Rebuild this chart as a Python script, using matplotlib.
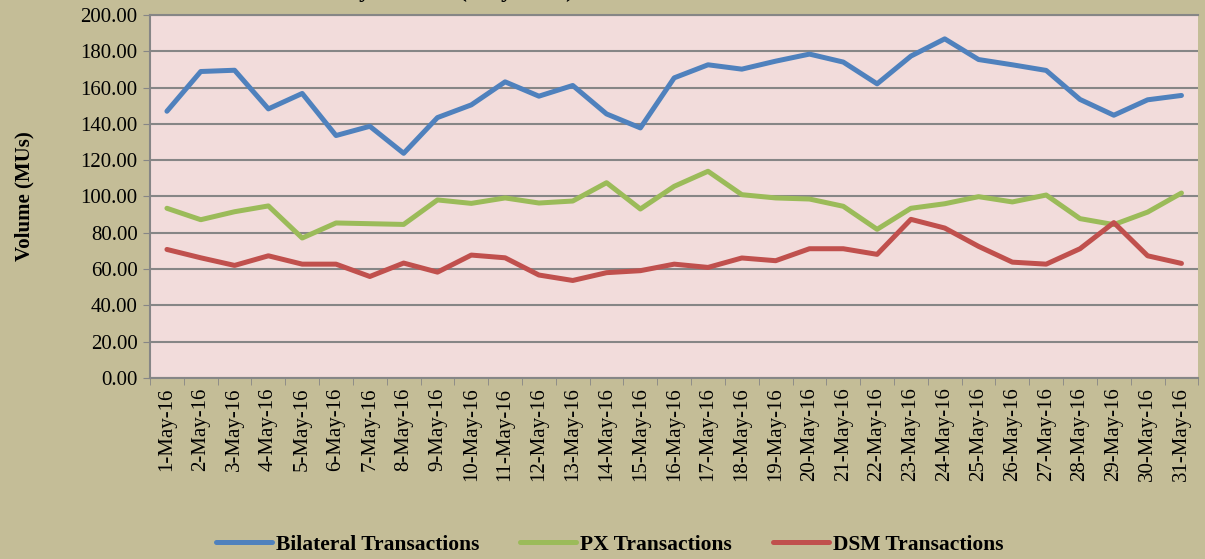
import numpy as np
import matplotlib
matplotlib.use("Agg")
import matplotlib.pyplot as plt

# Daily volumes, May 2016
days = [f"{d}-May-16" for d in range(1, 32)]
bilateral = [147.0, 168.9, 169.6, 148.3, 156.8, 133.6, 138.7, 123.8, 143.5, 150.5,
             163.2, 155.3, 161.2, 145.5, 137.8, 165.4, 172.6, 170.2, 174.6, 178.5,
             174.1, 162.1, 177.4, 186.9, 175.5, 172.6, 169.5, 153.5, 144.8, 153.3,
             155.7]
px = [93.5, 87.2, 91.6, 94.8, 77.1, 85.4, 85.0, 84.6, 98.1, 96.2,
      99.2, 96.4, 97.5, 107.6, 93.1, 105.6, 113.9, 101.0, 99.2, 98.6,
      94.6, 81.9, 93.5, 96.0, 99.9, 97.0, 100.8, 87.8, 84.5, 91.4,
      101.9]
dsm = [70.8, 66.2, 62.0, 67.3, 62.7, 62.7, 55.9, 63.3, 58.3, 67.7,
       66.2, 56.7, 53.7, 58.0, 59.1, 62.7, 60.9, 66.1, 64.6, 71.2,
       71.2, 68.1, 87.4, 82.6, 72.5, 63.8, 62.7, 71.2, 85.6, 67.3,
       63.1]

plt.rcParams["font.family"] = ["Liberation Serif", "DejaVu Serif"]

fig = plt.figure(figsize=(12.05, 5.59), dpi=100, facecolor="#C4BD97")
ax = fig.add_axes([0.1245, 0.324, 0.870, 0.649])
ax.set_facecolor("#F2DCDB")

x = np.arange(len(days))
ax.plot(x, bilateral, color="#4F81BD", lw=3.6, label="Bilateral Transactions", solid_capstyle="round")
ax.plot(x, px, color="#9BBB59", lw=3.6, label="PX Transactions", solid_capstyle="round")
ax.plot(x, dsm, color="#C0504D", lw=3.6, label="DSM Transactions", solid_capstyle="round")

ax.set_xlim(-0.5, len(days) - 0.5)
ax.set_ylim(0, 200)
ax.set_yticks(np.arange(0, 201, 20))
ax.set_yticklabels([f"{v:.2f}" for v in np.arange(0, 201, 20)], fontsize=15)
ax.yaxis.grid(True, color="#868686", lw=1.5)
ax.set_axisbelow(True)

ax.set_xticks(x)
ax.set_xticklabels(days, rotation=90, fontsize=15)
ax.tick_params(axis="x", length=0, pad=7)
ax.set_xticks(np.arange(-0.5, len(days), 1), minor=True)
ax.tick_params(axis="x", which="minor", length=5, color="#868686")
ax.tick_params(axis="y", length=5, color="#868686", pad=4)

for side in ["left", "bottom", "top"]:
    ax.spines[side].set_color("#868686")
    ax.spines[side].set_linewidth(1.5)
ax.spines["right"].set_visible(False)

ax.set_ylabel("Volume (MUs)", fontsize=15, fontweight="bold", labelpad=33)

# title sits above the visible area; only its lowest strokes show (cropped in the original)
fig.text(0.37, 1.006, "Daily Volume (May 2016)", ha="center", va="baseline",
         fontsize=17, fontweight="bold")

leg = fig.legend(loc="center", bbox_to_anchor=(0.506, 0.026), ncol=3, frameon=False,
                 prop={"weight": "bold", "size": 15.5}, handlelength=2.6,
                 columnspacing=1.9, handletextpad=0.2)

fig.savefig("out.png", dpi=100, facecolor=fig.get_facecolor())
